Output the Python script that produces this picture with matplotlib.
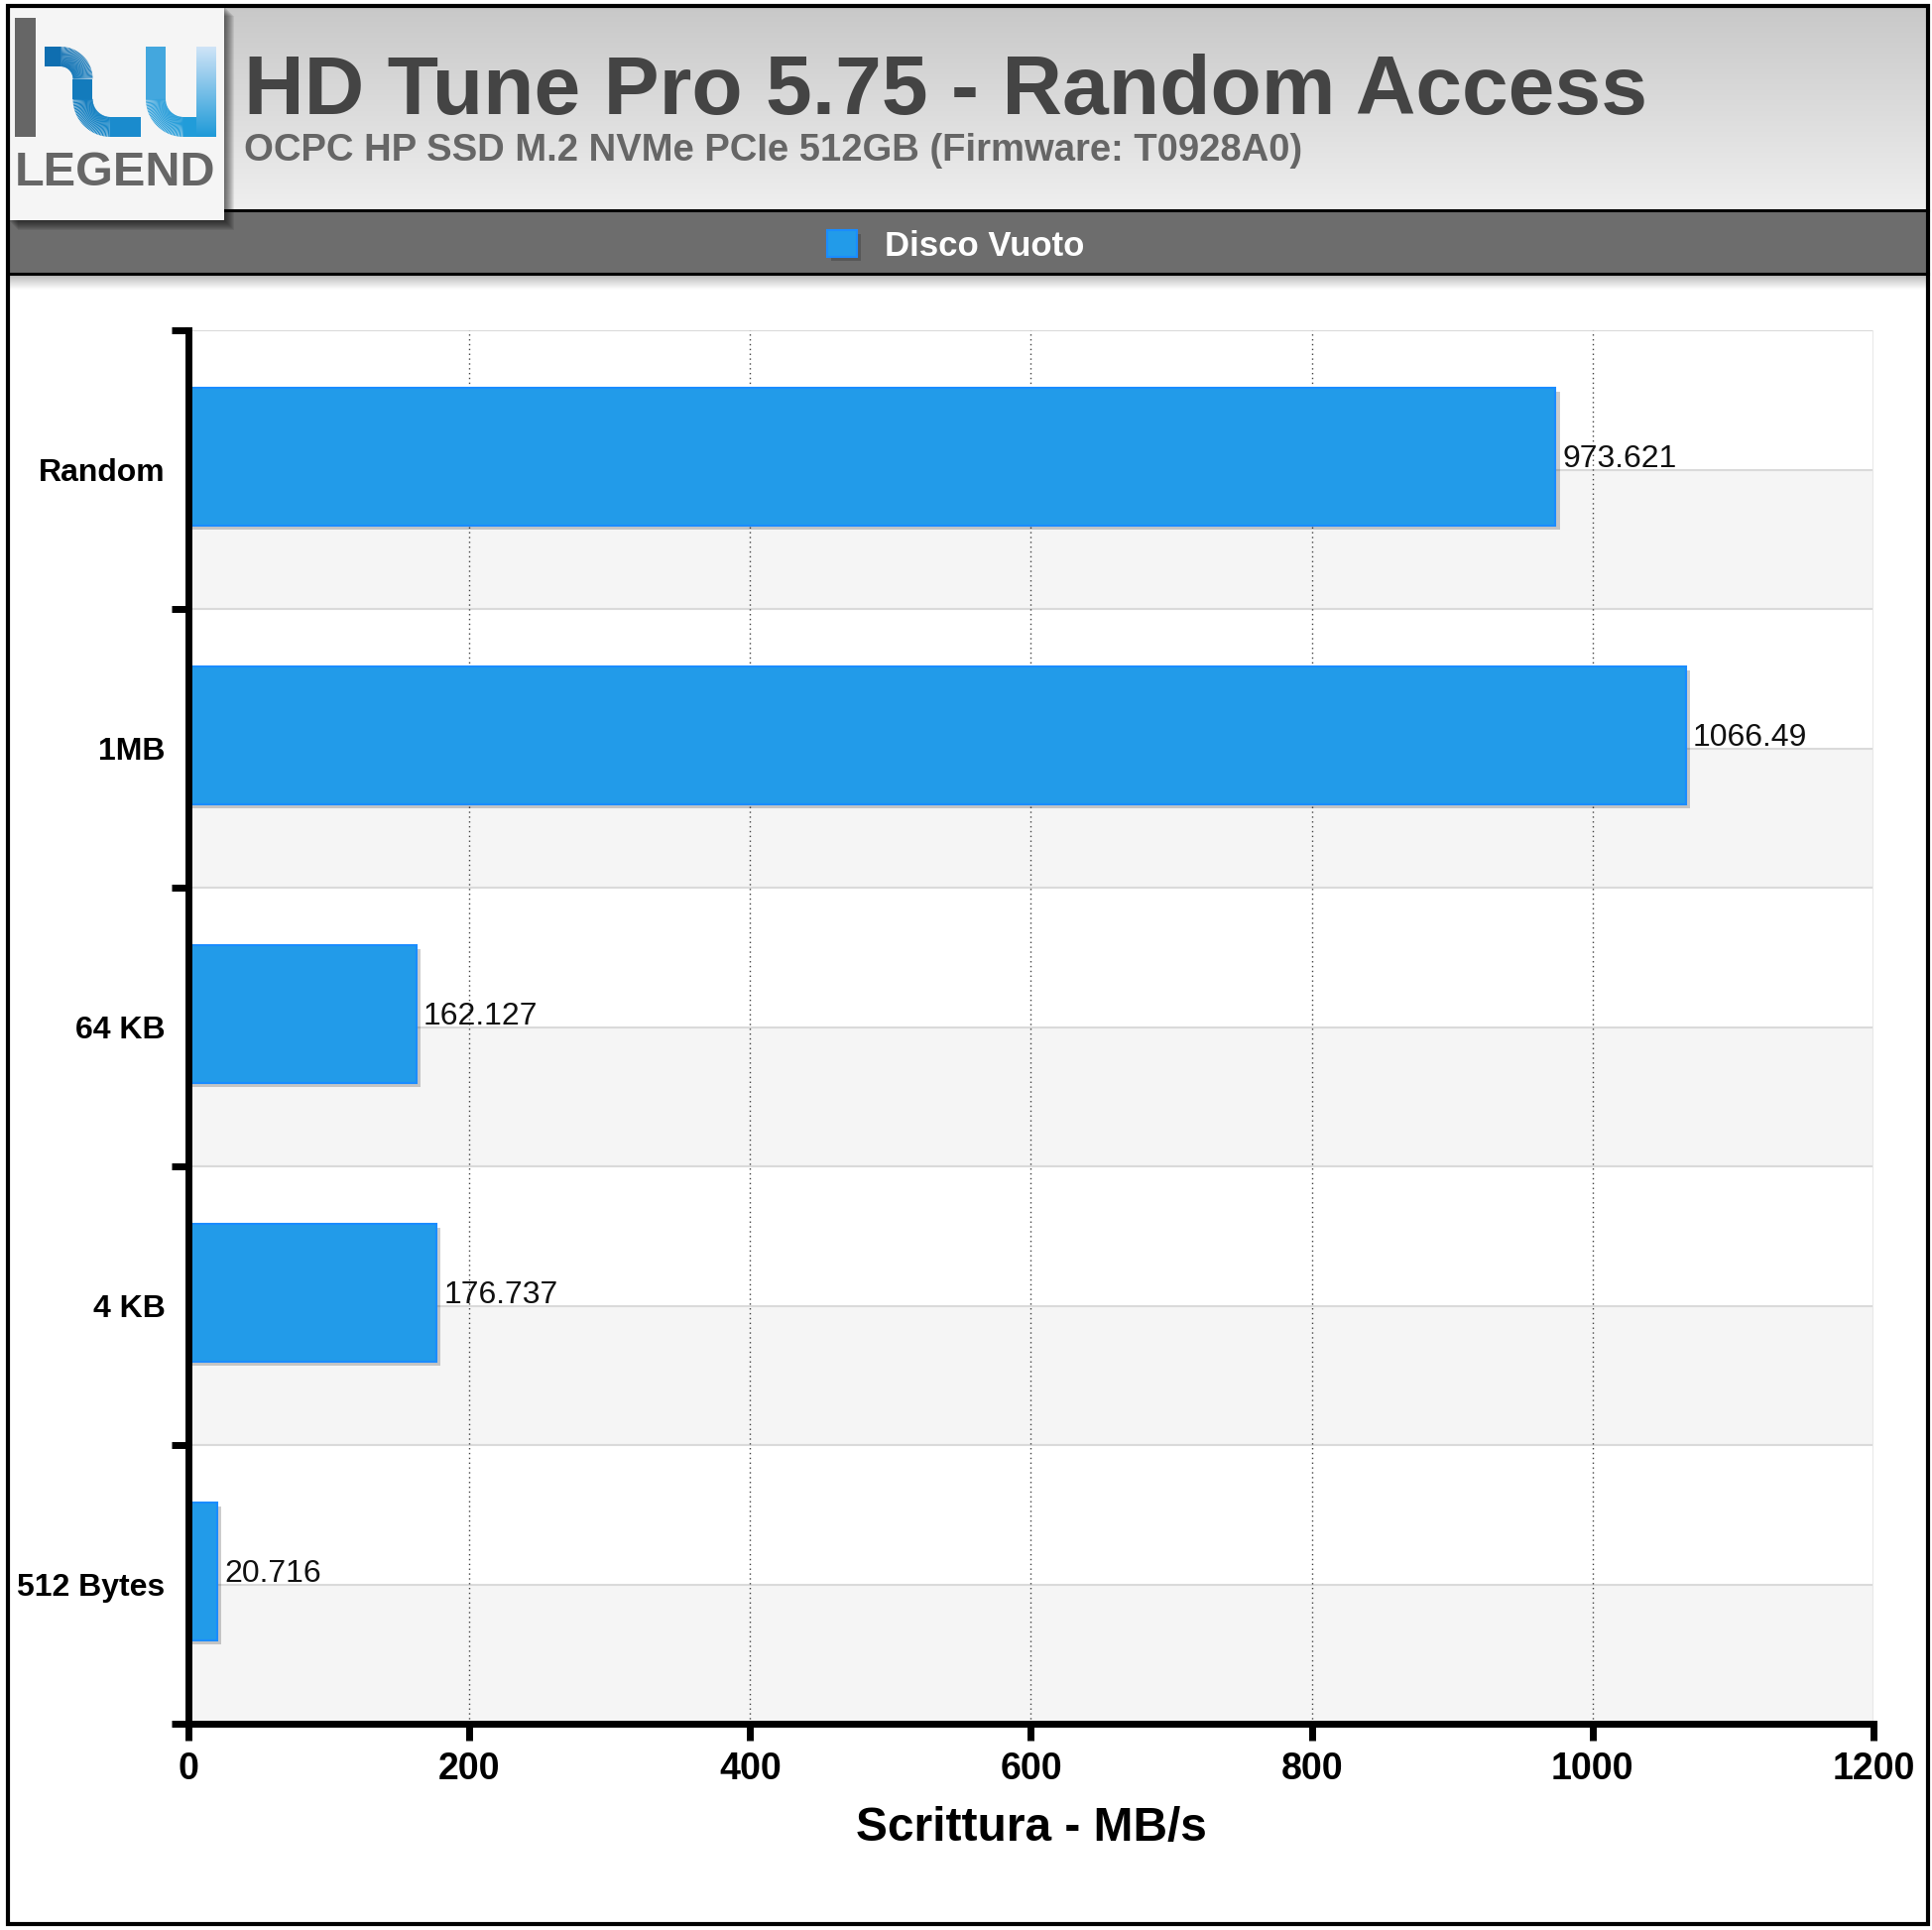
import numpy as np
import matplotlib
matplotlib.use('Agg')
import matplotlib.pyplot as plt
from matplotlib import patheffects as pe
from matplotlib.patches import Rectangle
from matplotlib.collections import LineCollection
from matplotlib.colors import LinearSegmentedColormap

plt.rcParams['font.family'] = ['Liberation Sans', 'DejaVu Sans']

# chart data
title = 'HD Tune Pro 5.75 - Random Access'
subtitle = 'OCPC HP SSD M.2 NVMe PCIe 512GB (Firmware: T0928A0)'
series_name = 'Disco Vuoto'
categories = ['Random', '1MB', '64 KB', '4 KB', '512 Bytes']
values = [973.621, 1066.49, 162.127, 176.737, 20.716]
x_ticks = [0, 200, 400, 600, 800, 1000, 1200]
x_label = 'Scrittura - MB/s'

W, H = 1949, 1946
BAR = '#229be9'
BAR_EDGE = '#1a8cff'


def fx(px):
    return px / W


def fy(py):
    return 1 - py / H


def arc(cx, cy, r, a0, a1, n=40):
    a = np.radians(np.linspace(a0, a1, n))
    return np.column_stack([cx + r * np.cos(a), cy + r * np.sin(a)])


def gradient_stroke(ax, pts, c0, c1, lw):
    seg = np.stack([pts[:-1], pts[1:]], axis=1)
    d = np.r_[0, np.cumsum(np.hypot(*np.diff(pts, axis=0).T))]
    t = (d[:-1] + d[1:]) / 2 / d[-1]
    cmap = LinearSegmentedColormap.from_list('s', [c0, c1])
    lc = LineCollection(seg, colors=cmap(t), linewidths=lw, capstyle='butt', zorder=6)
    ax.add_collection(lc)


fig = plt.figure(figsize=(W / 100, H / 100), dpi=100)
fig.patch.set_facecolor('white')

# decoration layer in pixel coordinates
bg = fig.add_axes([0, 0, 1, 1], zorder=0)
bg.axis('off')

grad = np.linspace(0, 1, 256)[:, None]
bg.imshow(grad, extent=(8, 1944, 212, 6), aspect='auto', zorder=1,
          cmap=LinearSegmentedColormap.from_list('hdr', ['#c8c8c8', '#efefef']))
bg.imshow(grad, extent=(8, 1944, 292, 277), aspect='auto', zorder=1,
          cmap=LinearSegmentedColormap.from_list('shd', ['#b8b8b8', '#ffffff']))
bg.add_patch(Rectangle((8, 212), 1936, 64, fc='#6d6d6d', ec='none', zorder=2))
bg.plot([8, 1944], [212, 212], color='black', lw=2.2, zorder=3)
bg.plot([8, 1944], [276, 276], color='black', lw=2.2, zorder=3)

# logo box with shadow
for k in range(1, 11):
    bg.add_patch(Rectangle((8 + k, 6 + k), 218, 216, fc='black', ec='none', alpha=0.07, zorder=4))
bg.add_patch(Rectangle((8, 6), 218, 216, fc='#f5f5f5', ec='none', zorder=5))
bg.add_patch(Rectangle((15, 18), 21, 120, fc='#666666', ec='none', zorder=6))
h_path = np.vstack([[[45, 57]], arc(61, 79.5, 22.5, -90, 0), [[83.5, 100]],
                    arc(111.5, 100, 28, 180, 90), [[142, 128]]])
gradient_stroke(bg, h_path, '#0e6cae', '#1b8fd0', 14.4)
u_path = np.vstack([[[157, 47]], [[157, 100]], arc(185, 100, 28, 180, 90), [[200, 128]]])
gradient_stroke(bg, u_path, '#4fabdf', '#1e9bd9', 14.4)
bg.imshow(grad, extent=(198, 218, 138, 47), aspect='auto', zorder=6,
          cmap=LinearSegmentedColormap.from_list('u', ['#d0e4f7', '#1e9ad8']))
bg.text(15, 187, 'LEGEND', weight='bold', fontsize=35, color='#666666',
        va='baseline', zorder=7)

bg.text(246, 115, title, fontsize=60.5, weight='bold', color='#444444', va='baseline', zorder=7)
bg.text(246, 162, subtitle, fontsize=27.5, weight='bold', color='#666666', va='baseline', zorder=7)

bg.add_patch(Rectangle((8, 6), 1936, 1934, fill=False, ec='black', lw=3, zorder=10))
bg.set_xlim(0, W)
bg.set_ylim(H, 0)

# main chart
ax = fig.add_axes([fx(190), fy(1738), (1889 - 190) / W, (1738 - 333) / H], zorder=1)
ax.set_facecolor('white')
ypos = np.arange(len(categories))

for i in ypos:
    ax.axhspan(i, i + 0.5, fc='#f5f5f5', ec='none', zorder=0)
for y in np.arange(-0.5, len(categories), 0.5):
    ax.axhline(y, color='#dadada', lw=1.5, zorder=1)
for x in x_ticks[1:-1]:
    ax.axvline(x, color='#444444', lw=1, ls=(0, (1, 2.5)), zorder=2)
ax.axvline(x_ticks[-1], color='#e8e8e8', lw=1.5, zorder=1)

bars = ax.barh(ypos - 0.047, values, height=0.495, color=BAR, edgecolor=BAR_EDGE,
               linewidth=1.5, zorder=3, label=series_name)
for b in bars:
    b.set_path_effects([pe.SimplePatchShadow(offset=(3, -3), shadow_rgbFace='black', alpha=0.2),
                        pe.Normal()])

for i, v in zip(ypos, values):
    ax.annotate(f'{v:g}', xy=(v, i), xytext=(5, 2), textcoords='offset points',
                va='baseline', ha='left', fontsize=23, color='#111111', zorder=4)

ax.set_xlim(x_ticks[0], x_ticks[-1])
ax.set_xticks(x_ticks)
ax.set_ylim(len(categories) - 0.5, -0.5)
ax.set_yticks(np.arange(-0.5, len(categories), 1))
ax.set_yticks(ypos, minor=True)
ax.set_yticklabels(categories, minor=True)
ax.tick_params(axis='y', which='major', length=12, width=5, direction='out', labelleft=False)
ax.tick_params(axis='y', which='minor', length=0, pad=17, labelsize=23)
ax.tick_params(axis='x', length=12, width=5, direction='out', pad=8, labelsize=27)
for t in ax.get_yticklabels(minor=True) + ax.get_xticklabels():
    t.set_fontweight('bold')

for s in ['top', 'right']:
    ax.spines[s].set_visible(False)
for s in ['left', 'bottom']:
    ax.spines[s].set_linewidth(5)
    ax.spines[s].set_zorder(5)

ax.set_xlabel(x_label, fontsize=34.5, weight='bold')
ax.xaxis.set_label_coords(0.5, -0.059)

fig.legend(handles=[bars], labels=[series_name], loc='center left',
           bbox_to_anchor=(fx(834), fy(248)), frameon=False, borderpad=0,
           borderaxespad=0, handlelength=0.86, handleheight=0.8, handletextpad=0.8,
           prop={'weight': 'bold', 'size': 25}, labelcolor='white')

fig.savefig('out.png', dpi=100)
